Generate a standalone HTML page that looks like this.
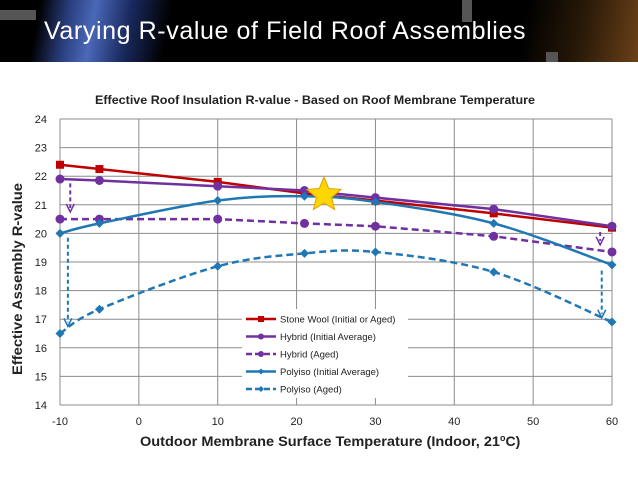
<!DOCTYPE html>
<html><head><meta charset="utf-8"><style>
html,body{margin:0;padding:0;width:638px;height:479px;overflow:hidden;background:#fff;font-family:"Liberation Sans",sans-serif}
#hdr{position:absolute;left:0;top:0;width:638px;height:62px;background:linear-gradient(100deg,#000 0px,#000 40px,#2a3f80 70px,#4a68b8 95px,#1a2a60 130px,#000 170px,#000 520px,#2a1a08 580px,#6a4018 638px)}
#title{position:absolute;left:44px;top:17px;color:#fff;font-size:25px;letter-spacing:0.6px}
</style></head><body>
<div id="hdr">
<div style="position:absolute;left:0;top:10px;width:36px;height:10px;background:#555"></div>
<div style="position:absolute;left:462px;top:0;width:10px;height:22px;background:#555"></div>
<div style="position:absolute;left:546px;top:52px;width:12px;height:10px;background:#555"></div>
</div>
<div id="title">Varying R-value of Field Roof Assemblies</div>
<svg id="chart" width="638" height="479" style="position:absolute;left:0;top:0"></svg>
<script>
const xTicks=[-10,0,10,20,30,40,50,60];
const yTicks=[14,15,16,17,18,19,20,21,22,23,24];
const temps=[-10,-5,10,21,30,45,60];
const stoneWool=[22.4,22.25,21.8,21.4,21.15,20.7,20.2];
const hybridInit=[21.9,21.85,21.65,21.5,21.25,20.85,20.25];
const hybridAged=[20.5,20.5,20.5,20.35,20.25,19.9,19.35];
const polyInit=[20.0,20.35,21.15,21.3,21.1,20.35,18.9];
const polyAged=[16.5,17.35,18.85,19.3,19.35,18.65,16.9];
const seriesNames=["Stone Wool (Initial or Aged)","Hybrid (Initial Average)","Hybrid (Aged)","Polyiso (Initial Average)","Polyiso (Aged)"];
const X0=60,X1=612,Y0=405,Y1=119;
const xs=v=>X0+(v+10)/70*(X1-X0);
const ys=v=>Y0-(v-14)/10*(Y0-Y1);
const svg=document.getElementById('chart');const NS='http://www.w3.org/2000/svg';
function mk(t,a,p){const e=document.createElementNS(NS,t);for(const k in a)e.setAttribute(k,a[k]);(p||svg).appendChild(e);return e;}
let e;
e=mk('text',{x:95,y:104,'font-size':11.5,'font-weight':'bold',fill:'#222',textLength:440,lengthAdjust:'spacingAndGlyphs'});e.textContent='Effective Roof Insulation R-value - Based on Roof Membrane Temperature';


yTicks.forEach(v=>{const l=mk('line',{x1:X0,x2:X1,y1:ys(v),y2:ys(v),stroke:'#8c8c8c','stroke-width':1});


const t=mk('text',{x:X0-13,y:ys(v)+4,'text-anchor':'end','font-size':11,fill:'#222'});t.textContent=v;

});
xTicks.forEach(v=>{const l=mk('line',{x1:xs(v),x2:xs(v),y1:Y1,y2:Y0,stroke:'#8c8c8c','stroke-width':1});


const t=mk('text',{x:xs(v),y:Y0+20,'text-anchor':'middle','font-size':11,fill:'#222'});t.textContent=v;

});
e=mk('text',{x:140,y:446,'font-size':14,'font-weight':'bold',fill:'#222'});e.innerHTML='<tspan textLength="360" lengthAdjust="spacingAndGlyphs">Outdoor Membrane Surface Temperature (Indoor, 21</tspan><tspan font-size="9" dy="-5">o</tspan><tspan dy="5">C)</tspan>';


e=mk('text',{x:22,y:279,'text-anchor':'middle','font-size':14,'font-weight':'bold',fill:'#222',transform:'rotate(-90 22 279)',textLength:192,lengthAdjust:'spacingAndGlyphs'});e.textContent='Effective Assembly R-value';


function smooth(p){let d=`M${p[0][0]},${p[0][1]}`;for(let i=0;i<p.length-1;i++){const a=p[i-1]||p[i],b=p[i],c=p[i+1],n=p[i+2]||c;d+=` C${b[0]+(c[0]-a[0])/6},${b[1]+(c[1]-a[1])/6} ${c[0]-(n[0]-b[0])/6},${c[1]-(n[1]-b[1])/6} ${c[0]},${c[1]}`;}return d;}
function marker(type,x,y,col,s,g){if(type==='sq')return mk('rect',{x:x-s,y:y-s,width:2*s,height:2*s,fill:col},g);if(type==='c')return mk('circle',{cx:x,cy:y,r:s,fill:col},g);return mk('polygon',{points:`${x},${y-s} ${x+s},${y} ${x},${y+s} ${x-s},${y}`,fill:col},g);}
const defs=[[stoneWool,'#c00000','sq',false,false,'stone-wool'],[hybridInit,'#7030a0','c',false,false,'hybrid-initial'],[hybridAged,'#7030a0','c',true,false,'hybrid-aged'],[polyInit,'#1f77b4','d',false,true,'polyiso-initial'],[polyAged,'#1f77b4','d',true,true,'polyiso-aged']];
defs.forEach(([vals,col,m,dash,sm,nm])=>{const g=mk('g',{});


const p=temps.map((t,i)=>[xs(t),ys(vals[i])]);
mk('path',{d:sm?smooth(p):'M'+p.map(q=>q.join(',')).join(' L'),fill:'none',stroke:col,'stroke-width':2.5,'stroke-dasharray':dash?'7 4':'none'},g);
p.forEach(q=>{const mm=marker(m,q[0],q[1],col,m==='sq'?4:4.5,g);});});
function arrow(x,v1,v2,col){const g=mk('g',{});


const a=xs(x),b=ys(v1),c=ys(v2);mk('line',{x1:a,x2:a,y1:b,y2:c-4,stroke:col,'stroke-width':2,'stroke-dasharray':'4 3'},g);mk('polyline',{points:`${a-4},${c-8} ${a},${c} ${a+4},${c-8}`,fill:'none',stroke:col,'stroke-width':1.5},g);}
arrow(-8.7,21.75,20.75,'#7030a0');arrow(-9,19.85,16.75,'#1f77b4');arrow(58.5,20.05,19.6,'#7030a0');arrow(58.7,18.7,17.05,'#1f77b4');
const cx=324,cy=195,pts=[];for(let i=0;i<10;i++){const r=i%2?8:18,an=-Math.PI/2+i*Math.PI/5;pts.push((cx+r*Math.cos(an)).toFixed(1)+','+(cy+r*Math.sin(an)).toFixed(1));}
e=mk('polygon',{points:pts.join(' '),fill:'#ffd700',stroke:'#e0a000','stroke-width':1});


const lg=mk('g',{});


mk('rect',{x:242,y:309,width:166,height:89,fill:'#fff'},lg);
defs.forEach(([v,col,m,dash],i)=>{const y=319+i*17.5;const ge=mk('g',{},lg);


mk('line',{x1:246,x2:276,y1:y,y2:y,stroke:col,'stroke-width':2.5,'stroke-dasharray':dash?'6 3':'none'},ge);marker(m,261,y,col,3,ge);
const t=mk('text',{x:280,y:y+3.5,'font-size':9.5,fill:'#222'},ge);t.textContent=seriesNames[i];});
</script>
</body></html>
